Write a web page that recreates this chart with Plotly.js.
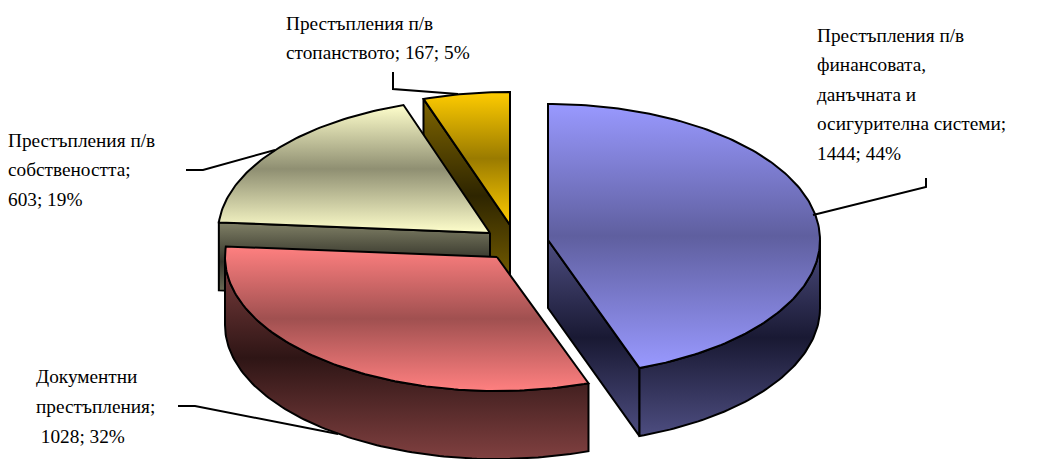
<!DOCTYPE html>
<html><head><meta charset="utf-8">
<script src="https://cdn.plot.ly/plotly-3.0.1.min.js"></script>
<style>html,body{margin:0;padding:0;background:#fff}#c{width:1038px;height:459px}</style>
</head><body><div id="c"></div>
<script>
const categories = ["Престъпления п/в финансовата, данъчната и осигурителна системи","Документни престъпления","Престъпления п/в собствеността","Престъпления п/в стопанството"];
const values = [1444, 1028, 603, 167];
const percents = [44, 32, 19, 5];
const labelLines = [
  ["Престъпления п/в","финансовата,","данъчната и","осигурителна системи;","1444; 44%"],
  ["Документни","престъпления;"," 1028; 32%"],
  ["Престъпления п/в","собствеността;","603; 19%"],
  ["Престъпления п/в","стопанството; 167; 5%"]
];
const topColors = [["#9999FF","#5F5F9F"],["#FF8080","#A05050"],["#FFFFCC","#8F8F72"],["#FFCC00","#9A7B00"]];
const wallColors = [["#4D4D80","#191933"],["#804040","#2E1515"],["#808066","#333329"],["#806600","#2E2500"]];
const centers = [[548,240,136],[497,257,134],[490,233,135],[510,225,133]];
const labelPos = [[816,35,29.5],[35,376,30],[7,140,29.5],[285,23,29]];
const leaders = [[[926,178],[926,187],[813,215]],[[178,406],[195,406],[338,434]],[[186,170],[203,170],[275,150]],[[393,72],[393,89],[458,94]]];
const RX = 272, DEPTH = 68;

const total = values.reduce((a,b)=>a+b,0);
let acc = 0;
const spans = values.map(v=>{const s=acc; acc+=v/total*360; return [s,acc];});
const rad = d=>d*Math.PI/180;
function rim(i,t,dz){const [cx,cy,ry]=centers[i];return [cx+RX*Math.sin(rad(t)),cy-ry*Math.cos(rad(t))+(dz||0)];}
function arc(i,a,b,dz){const n=Math.max(2,Math.ceil(Math.abs(b-a)));const o=[];for(let k=0;k<=n;k++)o.push(rim(i,a+(b-a)*k/n,dz));return o;}
function apex(i,dz){return [centers[i][0],centers[i][1]+(dz||0)];}
function poly(pts,cols){
  const p=pts.concat([pts[0]]);
  return {type:'scatter',mode:'lines',x:p.map(q=>q[0]),y:p.map(q=>q[1]),fill:'toself',
    line:{color:'#000',width:2,shape:'linear'},
    fillgradient:{type:'vertical',colorscale:[[0,cols[0]],[0.5,cols[1]],[1,cols[0]]]},
    hoverinfo:'skip',showlegend:false};
}
function cutFace(i,t,c){return poly([apex(i),rim(i,t),rim(i,t,DEPTH),apex(i,DEPTH)],c);}
function outerWall(i,a,b,c){return poly(arc(i,a,b).concat(arc(i,b,a,DEPTH)),c);}
function topFace(i){return poly([apex(i)].concat(arc(i,spans[i][0],spans[i][1])),topColors[i]);}

const traces=[
  cutFace(3,spans[3][0],wallColors[3]), topFace(3),
  cutFace(2,spans[2][0],wallColors[2]), topFace(2),
  outerWall(1,spans[1][0],270,wallColors[1]), topFace(1),
  cutFace(0,spans[0][1],wallColors[0]), outerWall(0,90,spans[0][1],wallColors[0]), topFace(0)
];
leaders.forEach(l=>traces.push({type:'scatter',mode:'lines',x:l.map(q=>q[0]),y:l.map(q=>q[1]),
  line:{color:'#000',width:2},hoverinfo:'skip',showlegend:false}));

const annotations=[];
labelLines.forEach((lines,i)=>lines.forEach((t,k)=>annotations.push({
  x:labelPos[i][0],y:labelPos[i][1]+k*labelPos[i][2],xref:'x',yref:'y',xanchor:'left',yanchor:'middle',
  text:t.replace(/^ /,'&nbsp;'),showarrow:false,align:'left',borderpad:0,
  font:{family:'"Liberation Serif",serif',size:19.3,color:'#000'}})));

Plotly.newPlot('c',traces,{
  width:1038,height:459,margin:{l:0,r:0,t:0,b:0},paper_bgcolor:'#fff',plot_bgcolor:'#fff',
  xaxis:{range:[0,1038],visible:false,fixedrange:true},
  yaxis:{range:[459,0],visible:false,fixedrange:true},
  annotations:annotations,showlegend:false
},{displayModeBar:false,staticPlot:true});
</script></body></html>
